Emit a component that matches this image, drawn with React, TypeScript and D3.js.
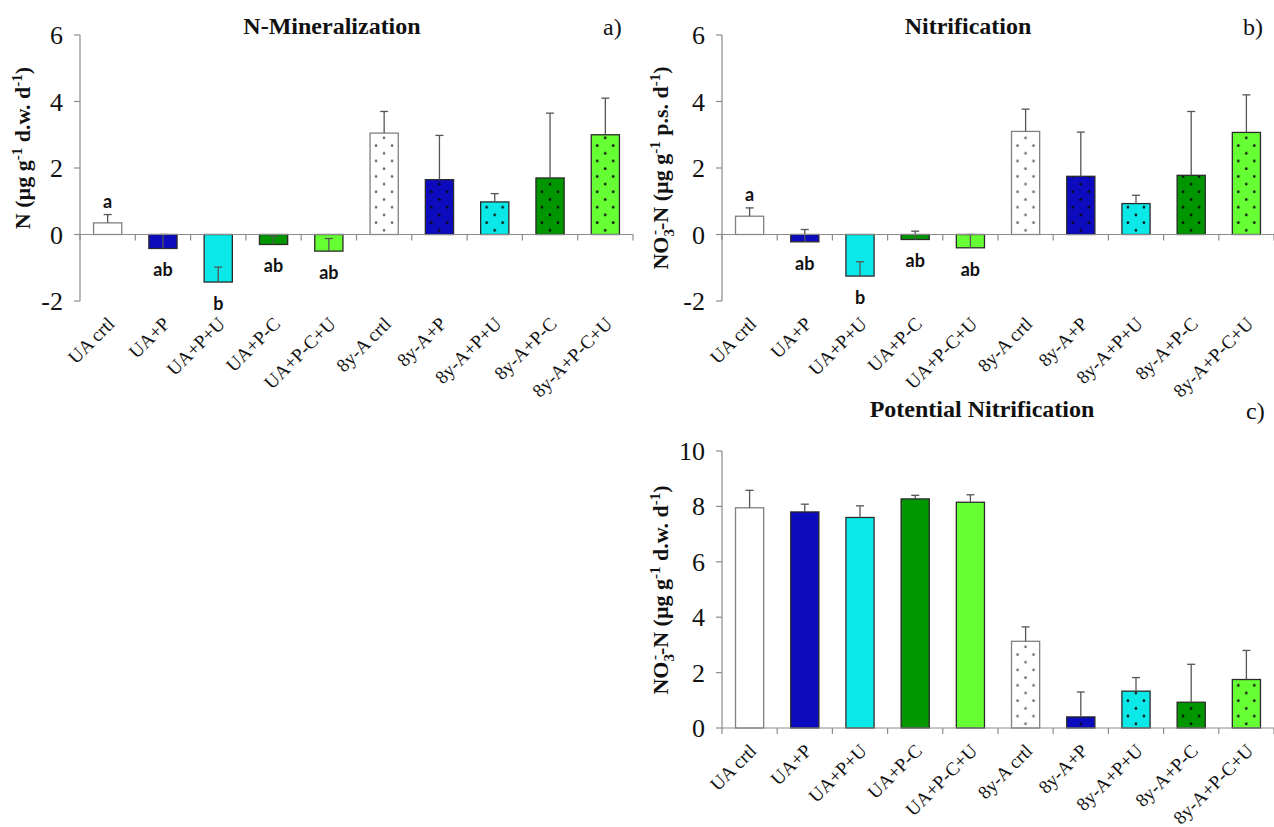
import React from 'react';
import * as d3 from 'd3';

// Treatments shared by the three panels
const categories = [
  'UA crtl', 'UA+P', 'UA+P+U', 'UA+P-C', 'UA+P-C+U',
  '8y-A crtl', '8y-A+P', '8y-A+P+U', '8y-A+P-C', '8y-A+P-C+U',
];
const fillColors = [
  '#ffffff', '#0c0cbe', '#0ae8e8', '#009600', '#66ff33',
  '#ffffff', '#0c0cbe', '#0ae8e8', '#009600', '#66ff33',
];
const dotted = [false, false, false, false, false, true, true, true, true, true];

// a) N-mineralization
const mineralization = [0.35, -0.42, -1.43, -0.3, -0.5, 3.05, 1.65, 0.98, 1.7, 3.0];
const mineralizationErr = [0.25, 0.42, 0.45, 0.25, 0.38, 0.65, 1.33, 0.25, 1.95, 1.1];
const mineralizationLetters = ['a', 'ab', 'b', 'ab', 'ab', '', '', '', '', ''];

// b) Nitrification
const nitrification = [0.55, -0.22, -1.25, -0.15, -0.4, 3.1, 1.75, 0.93, 1.78, 3.07];
const nitrificationErr = [0.25, 0.37, 0.43, 0.25, 0.4, 0.67, 1.33, 0.25, 1.92, 1.13];
const nitrificationLetters = ['a', 'ab', 'b', 'ab', 'ab', '', '', '', '', ''];

// c) Potential nitrification
const potential = [7.95, 7.8, 7.6, 8.27, 8.15, 3.13, 0.4, 1.33, 0.93, 1.75];
const potentialErr = [0.63, 0.28, 0.42, 0.13, 0.27, 0.52, 0.9, 0.49, 1.37, 1.05];
const potentialLetters = ['', '', '', '', '', '', '', '', '', ''];

const ticksAB = [-2, 0, 2, 4, 6];
const ticksC = [0, 2, 4, 6, 8, 10];

const SERIF = "'Liberation Serif', 'Times New Roman', serif";
const SANS = "Lato, 'Open Sans', sans-serif";

type PanelProps = {
  id: string;
  values: number[];
  errors: number[];
  letters: string[];
  domain: [number, number];
  ticks: number[];
  left: number;
  right: number;
  top: number;
  bottom: number;
  title: string;
  titleX: number;
  titleY: number;
  tag: string;
  tagX: number;
  tagY: number;
  yLabel: React.ReactNode;
  yLabelX: number;
  yLabelY: number;
};

function Panel(p: PanelProps) {
  const x = d3
    .scaleBand<string>()
    .domain(categories)
    .range([p.left, p.right])
    .paddingInner(0.49)
    .paddingOuter(0.245);
  const y = d3.scaleLinear().domain(p.domain).range([p.bottom, p.top]);
  const y0 = y(0);
  const step = x.step();
  const bw = x.bandwidth();
  const boundaries = d3.range(categories.length + 1).map((i) => p.left + i * step);

  return (
    <g>
      <defs>
        {categories.map((c, i) => {
          if (!dotted[i]) return null;
          const bx = x(c)!;
          const white = fillColors[i] === '#ffffff';
          return (
            <pattern
              key={c}
              id={`${p.id}-dots-${i}`}
              patternUnits="userSpaceOnUse"
              x={bx}
              y={y0}
              width={16}
              height={15.4}
            >
              <rect width={16} height={15.4} fill={fillColors[i]} />
              <circle cx={6} cy={3.5} r={1.3} fill={white ? '#666' : '#0a0a0a'} />
              <circle cx={14} cy={11.2} r={1.3} fill={white ? '#666' : '#0a0a0a'} />
            </pattern>
          );
        })}
      </defs>

      {/* bars */}
      {categories.map((c, i) => {
        const v = p.values[i];
        const yTop = Math.min(y(v), y0);
        const h = Math.abs(y(v) - y0);
        const white = fillColors[i] === '#ffffff';
        return (
          <rect
            key={c}
            x={x(c)}
            y={yTop}
            width={bw}
            height={h}
            fill={dotted[i] ? `url(#${p.id}-dots-${i})` : fillColors[i]}
            stroke={white ? '#808080' : '#2a2a2a'}
            strokeWidth={1.3}
          />
        );
      })}

      {/* error bars (plus direction) */}
      {categories.map((c, i) => {
        const cx = x(c)! + bw / 2;
        const v = p.values[i];
        const e = p.errors[i];
        const ya = y(v);
        const yb = y(v + e);
        return (
          <g key={c} stroke="#555" strokeWidth={1.3}>
            <line x1={cx} x2={cx} y1={ya} y2={yb} />
            <line x1={cx - 4} x2={cx + 4} y1={yb} y2={yb} />
          </g>
        );
      })}

      {/* significance letters */}
      {categories.map((c, i) => {
        const l = p.letters[i];
        if (!l) return null;
        const cx = x(c)! + bw / 2;
        const v = p.values[i];
        const yy = v >= 0 ? y(v + p.errors[i]) - 7 : y(v) + 28;
        return (
          <text
            key={c}
            x={cx}
            y={yy}
            textAnchor="middle"
            fontFamily={SANS}
            fontWeight={700}
            fontSize={18}
            fill="#111"
          >
            {l}
          </text>
        );
      })}

      {/* zero line with category ticks */}
      <g stroke="#8c8c8c" strokeWidth={1.2}>
        <line x1={p.left} x2={p.right} y1={y0} y2={y0} />
        {boundaries.map((bx, i) => (
          <line key={i} x1={bx} x2={bx} y1={y0} y2={y0 + 6} />
        ))}
      </g>

      {/* value axis */}
      <g stroke="#8c8c8c" strokeWidth={1.2}>
        <line x1={p.left} x2={p.left} y1={p.top} y2={p.bottom} />
        {p.ticks.map((t) => (
          <line key={t} x1={p.left - 6} x2={p.left} y1={y(t)} y2={y(t)} />
        ))}
      </g>
      {p.ticks.map((t) => (
        <text
          key={t}
          x={p.left - 17}
          y={y(t) + 9}
          textAnchor="end"
          fontFamily={SERIF}
          fontSize={26}
          fill="#111"
        >
          {t}
        </text>
      ))}

      {/* category labels */}
      {categories.map((c) => {
        const cx = x(c)! + bw / 2;
        return (
          <text
            key={c}
            transform={`translate(${cx + 8},${p.bottom + 24}) rotate(-45)`}
            textAnchor="end"
            fontFamily={SERIF}
            fontSize={19}
            fill="#111"
          >
            {c}
          </text>
        );
      })}

      {/* titles */}
      <text
        x={p.titleX}
        y={p.titleY}
        textAnchor="middle"
        fontFamily={SERIF}
        fontWeight={700}
        fontSize={24}
        fill="#111"
      >
        {p.title}
      </text>
      <text x={p.tagX} y={p.tagY} fontFamily={SERIF} fontSize={24} fill="#111">
        {p.tag}
      </text>
      <text
        transform={`translate(${p.yLabelX},${p.yLabelY}) rotate(-90)`}
        textAnchor="middle"
        fontFamily={SERIF}
        fontWeight={700}
        fontSize={22}
        fill="#111"
      >
        {p.yLabel}
      </text>
    </g>
  );
}

const nitrateLabel = (basis: string) => (
  <>
    NO
    <tspan dy={6} fontSize={15}>
      3
    </tspan>
    <tspan dx={-6} dy={-15} fontSize={15}>
      -
    </tspan>
    <tspan dy={9}>-N (µg g</tspan>
    <tspan dy={-8} fontSize={15}>
      -1
    </tspan>
    <tspan dy={8}>{` ${basis} d`}</tspan>
    <tspan dy={-8} fontSize={15}>
      -1
    </tspan>
    <tspan dy={8}>)</tspan>
  </>
);

const mineralLabel = (
  <>
    N (µg g
    <tspan dy={-8} fontSize={15}>
      -1
    </tspan>
    <tspan dy={8}> d.w. d</tspan>
    <tspan dy={-8} fontSize={15}>
      -1
    </tspan>
    <tspan dy={8}>)</tspan>
  </>
);

export default function App() {
  return (
    <svg
      width={1274}
      height={827}
      style={{ position: 'absolute', left: 0, top: 0, background: '#fff' }}
    >
      <Panel
        id="a"
        values={mineralization}
        errors={mineralizationErr}
        letters={mineralizationLetters}
        domain={[-2, 6]}
        ticks={ticksAB}
        left={80}
        right={633}
        top={35}
        bottom={301}
        title="N-Mineralization"
        titleX={332}
        titleY={34}
        tag="a)"
        tagX={603}
        tagY={35}
        yLabel={mineralLabel}
        yLabelX={30}
        yLabelY={148}
      />
      <Panel
        id="b"
        values={nitrification}
        errors={nitrificationErr}
        letters={nitrificationLetters}
        domain={[-2, 6]}
        ticks={ticksAB}
        left={722}
        right={1274}
        top={35}
        bottom={301}
        title="Nitrification"
        titleX={968}
        titleY={34}
        tag="b)"
        tagX={1243}
        tagY={35}
        yLabel={nitrateLabel('p.s.')}
        yLabelX={668}
        yLabelY={168}
      />
      <Panel
        id="c"
        values={potential}
        errors={potentialErr}
        letters={potentialLetters}
        domain={[0, 10]}
        ticks={ticksC}
        left={722}
        right={1274}
        top={451}
        bottom={728}
        title="Potential Nitrification"
        titleX={982}
        titleY={417}
        tag="c)"
        tagX={1246}
        tagY={419}
        yLabel={nitrateLabel('d.w.')}
        yLabelX={668}
        yLabelY={590}
      />
    </svg>
  );
}
